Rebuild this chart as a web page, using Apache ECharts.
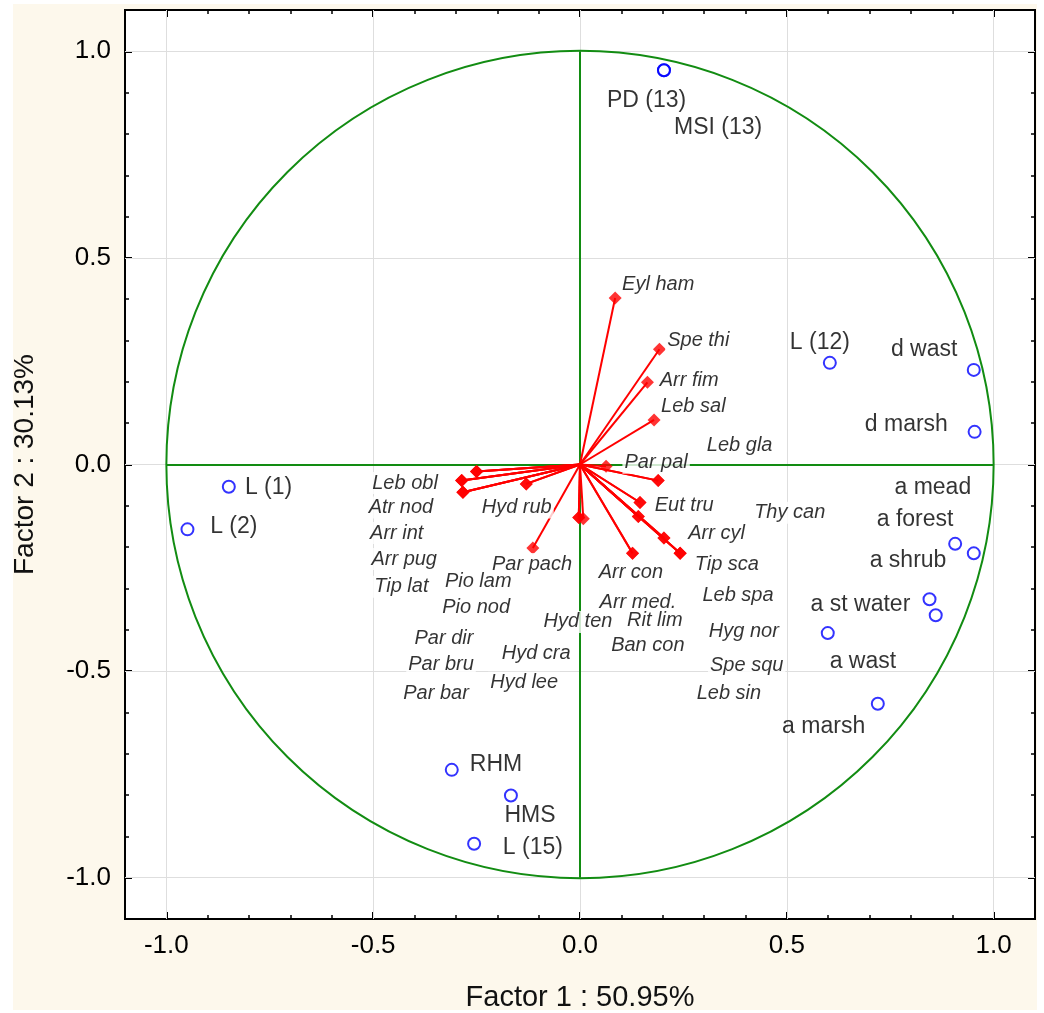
<!DOCTYPE html>
<html>
<head>
	<meta charset="UTF-8">
	<title>Factor 1 x Factor 2</title>
	<style>
		html, body { margin: 0; padding: 0; background: #fff; }
		#paper { position: absolute; left: 13px; top: 4px; width: 1024px; height: 1006px; background: #fdf8ec; }
		#chart { position: absolute; left: 0; top: 0; width: 1044px; height: 1013px; }
	</style>
	<script src="https://cdn.jsdelivr.net/npm/echarts@6/dist/echarts.min.js"></script>
</head>
<body>
	<div id="paper"></div>
	<div id="chart"></div>
	<script>
		// sites / habitats (blue circles)
		var siteNames = ['PD (13)', 'MSI (13)', 'L (12)', 'd wast', 'd marsh', 'a mead', 'a forest', 'a shrub',
			'a st water', 'a wast', 'a marsh', 'L (1)', 'L (2)', 'RHM', 'HMS', 'L (15)'];
		var siteF1 = [0.203, 0.203, 0.604, 0.952, 0.954, 0.952, 0.907, 0.845, 0.860, 0.599, 0.720, -0.849, -0.949, -0.310, -0.167, -0.256];
		var siteF2 = [0.954, 0.954, 0.246, 0.229, 0.079, -0.215, -0.192, -0.326, -0.365, -0.408, -0.579, -0.054, -0.157, -0.739, -0.801, -0.918];
		// where the site names were placed (centre of text)
		var siteLabelF1 = [0.161, 0.334, 0.580, 0.832, 0.789, 0.853, 0.810, 0.793, 0.678, 0.684, 0.589, -0.753, -0.837, -0.203, -0.121, -0.114];
		var siteLabelF2 = [0.881, 0.815, 0.295, 0.279, 0.096, -0.055, -0.134, -0.233, -0.340, -0.477, -0.634, -0.055, -0.150, -0.727, -0.850, -0.928];

		// species (red vectors)
		var speciesNames = ['Eyl ham', 'Spe thi', 'Arr fim', 'Leb sal', 'Leb gla', 'Par pal', 'Leb obl', 'Atr nod',
			'Arr int', 'Arr pug', 'Tip lat', 'Hyd rub', 'Par pach', 'Pio lam', 'Pio nod', 'Par dir', 'Par bru',
			'Par bar', 'Hyd ten', 'Hyd cra', 'Hyd lee', 'Eut tru', 'Arr cyl', 'Tip sca', 'Arr con', 'Arr med.',
			'Rit lim', 'Ban con', 'Thy can', 'Leb spa', 'Hyg nor', 'Spe squ', 'Leb sin'];
		var speciesF1 = [0.085, 0.192, 0.163, 0.179, 0.189, 0.063, -0.250, -0.286, -0.283, -0.286, -0.283, -0.130, -0.114,
			-0.250, -0.130, -0.283, -0.286, -0.250, -0.003, 0.008, -0.003, 0.145, 0.203, 0.242, 0.127, 0.141,
			0.141, 0.127, 0.203, 0.242, 0.145, 0.189, 0.242];
		var speciesF2 = [0.403, 0.279, 0.199, 0.108, -0.039, -0.004, -0.017, -0.039, -0.067, -0.039, -0.067, -0.047, -0.202,
			-0.017, -0.047, -0.067, -0.039, -0.017, -0.128, -0.131, -0.128, -0.092, -0.178, -0.215, -0.215, -0.126,
			-0.126, -0.215, -0.178, -0.215, -0.092, -0.039, -0.215];
		var speciesLabelF1 = [0.189, 0.286, 0.264, 0.274, 0.386, 0.184, -0.423, -0.433, -0.443, -0.425, -0.432, -0.153, -0.116,
			-0.246, -0.251, -0.329, -0.336, -0.348, -0.005, -0.106, -0.135, 0.252, 0.330, 0.355, 0.123, 0.140,
			0.181, 0.164, 0.507, 0.382, 0.396, 0.403, 0.360];
		var speciesLabelF2 = [0.437, 0.301, 0.203, 0.140, 0.047, 0.004, -0.045, -0.104, -0.166, -0.229, -0.296, -0.104, -0.241,
			-0.284, -0.345, -0.420, -0.485, -0.553, -0.381, -0.458, -0.528, -0.098, -0.166, -0.243, -0.262, -0.333,
			-0.378, -0.439, -0.117, -0.318, -0.403, -0.487, -0.555];

		var majorTicks = [-1.0, -0.5, 0.0, 0.5, 1.0];
		var axisMin = -1.1, axisMax = 1.1;

		var green = '#128c12';
		var font = 'Liberation Sans, Arial, sans-serif';

		var myChart = echarts.init(document.getElementById('chart'));

		function isMajor(v) {
			return Math.abs(v * 2 - Math.round(v * 2)) < 1e-6;
		}

		function minorAxis(pos, withLabel, size) {
			return {
				type: 'value', position: pos, min: axisMin, max: axisMax, interval: 0.1,
				axisLine: { show: false, onZero: false },
				splitLine: { show: false },
				axisTick: { inside: true, length: 4, lineStyle: { color: '#000', width: 1.5 } },
				axisLabel: {
					show: withLabel, margin: 14, fontSize: size || 25, color: '#000', fontFamily: font,
					formatter: function (v) { return isMajor(v) ? v.toFixed(1) : ''; }
				}
			};
		}
		function majorAxis(pos) {
			return {
				type: 'value', position: pos, min: axisMin, max: axisMax, interval: 0.1,
				axisLine: { show: false, onZero: false },
				splitLine: { show: false },
				axisTick: { inside: true, length: 7, customValues: majorTicks, lineStyle: { color: '#000', width: 2 } },
				axisLabel: { show: false }
			};
		}

		var xBottom = minorAxis('bottom', true, 26);
		xBottom.name = 'Factor 1 : 50.95%';
		xBottom.nameLocation = 'middle';
		xBottom.nameGap = 64;
		xBottom.nameTextStyle = { fontSize: 29, color: '#111', fontFamily: font };
		var yLeft = minorAxis('left', true, 26);
		yLeft.name = 'Factor 2 : 30.13%';
		yLeft.nameLocation = 'middle';
		yLeft.nameGap = 86;
		yLeft.nameTextStyle = { fontSize: 28, color: '#111', fontFamily: font };

		var gridLines = [];
		majorTicks.forEach(function (v) {
			gridLines.push({ coords: [[v, axisMin], [v, axisMax]] });
			gridLines.push({ coords: [[axisMin, v], [axisMax, v]] });
		});

		var vectors = speciesNames.map(function (n, i) {
			return { name: n, coords: [[0, 0], [speciesF1[i], speciesF2[i]]] };
		});

		var option = {
			animation: false,
			grid: {
				left: 125, top: 10, right: 9, bottom: 94,
				outerBoundsMode: 'none', containLabel: false,
				show: true, backgroundColor: '#fff', borderColor: '#000', borderWidth: 2
			},
			xAxis: [xBottom, minorAxis('top', false), majorAxis('bottom'), majorAxis('top')],
			yAxis: [yLeft, minorAxis('right', false), majorAxis('left'), majorAxis('right')],
			series: [
				{
					type: 'lines', coordinateSystem: 'cartesian2d', silent: true, z: 1,
					data: gridLines,
					lineStyle: { color: '#dedede', width: 1, opacity: 1 }
				},
				{
					type: 'lines', coordinateSystem: 'cartesian2d', silent: true, z: 2,
					data: [{ coords: [[-1, 0], [1, 0]] }, { coords: [[0, -1], [0, 1]] }],
					lineStyle: { color: green, width: 2, opacity: 1 }
				},
				{
					type: 'lines', coordinateSystem: 'cartesian2d', silent: true, z: 3,
					data: vectors,
					lineStyle: { color: '#ff0000', width: 2, opacity: 1 }
				},
				{
					type: 'scatter', silent: true, z: 4,
					symbol: 'diamond', symbolSize: 13,
					itemStyle: { color: '#ff0000' },
					data: speciesNames.map(function (n, i) { return { name: n, value: [speciesF1[i], speciesF2[i]] }; })
				},
				{
					type: 'scatter', silent: true, z: 4,
					symbol: 'circle', symbolSize: 12,
					itemStyle: { color: 'rgba(255,255,255,0)', borderColor: '#0000ff', borderWidth: 2 },
					data: siteNames.map(function (n, i) { return { name: n, value: [siteF1[i], siteF2[i]] }; })
				},
				{
					type: 'scatter', silent: true, z: 5,
					symbol: 'circle', symbolSize: 1,
					itemStyle: { color: 'rgba(0,0,0,0)' },
					label: {
						show: true, position: 'inside', formatter: '{b}',
						fontSize: 20, fontStyle: 'italic', color: '#000', fontFamily: font,
						backgroundColor: '#fff', padding: [1, 2]
					},
					data: speciesNames.map(function (n, i) { return { name: n, value: [speciesLabelF1[i], speciesLabelF2[i]] }; })
				},
				{
					type: 'scatter', silent: true, z: 5,
					symbol: 'circle', symbolSize: 1,
					itemStyle: { color: 'rgba(0,0,0,0)' },
					label: {
						show: true, position: 'inside', formatter: '{b}',
						fontSize: 23, color: '#000', fontFamily: font
					},
					data: siteNames.map(function (n, i) { return { name: n, value: [siteLabelF1[i], siteLabelF2[i]] }; })
				}
			]
		};

		myChart.setOption(option);

		// unit circle, sized through the axis scales
		var o = myChart.convertToPixel({ gridIndex: 0 }, [0, 0]);
		var e = myChart.convertToPixel({ gridIndex: 0 }, [1, 0]);
		myChart.setOption({
			graphic: [{
				type: 'circle', z: 2, silent: true,
				shape: { cx: o[0], cy: o[1], r: e[0] - o[0] },
				style: { fill: null, stroke: green, lineWidth: 2 }
			}]
		});
	</script>
</body>
</html>
